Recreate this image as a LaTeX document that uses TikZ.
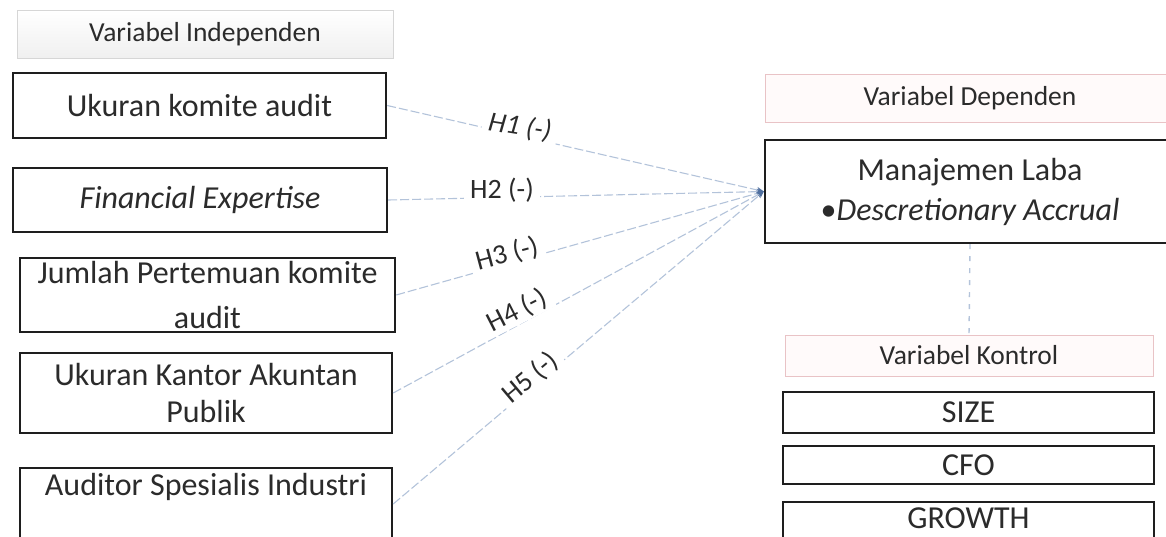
\documentclass[tikz,border=0pt]{standalone}
\usepackage{fontspec}
\setmainfont{Carlito}
\usetikzlibrary{arrows.meta}

\definecolor{ink}{HTML}{2B2B2B}
\definecolor{boxline}{HTML}{1E1E1E}
\definecolor{linkblue}{HTML}{B3C3DA}
\definecolor{tipblue}{HTML}{4F6F9F}
\definecolor{greyedge}{HTML}{D6D6D6}
\definecolor{pinkedge}{HTML}{E9C3C6}
\definecolor{pinkfill}{HTML}{FFFAFA}

\tikzset{
  varbox/.style={draw=boxline, line width=2.4pt, fill=white, text=ink,
    align=center, inner sep=0pt, font=\fontsize{32}{39}\selectfont},
  headgrey/.style={draw=greyedge, line width=1pt, top color=white, bottom color=black!6,
    text=ink, inner sep=0pt, font=\fontsize{27.5}{32}\selectfont},
  headpink/.style={draw=pinkedge, line width=1pt, fill=pinkfill,
    text=ink, inner sep=0pt, font=\fontsize{27.5}{32}\selectfont},
  hyplink/.style={draw=linkblue, line width=1.1pt, dash pattern=on 9pt off 3pt,
    -{Stealth[length=7pt,width=6pt,color=tipblue]}},
  ctrllink/.style={draw=linkblue, line width=1.4pt, dash pattern=on 5pt off 7pt},
  hyplabel/.style={fill=white, text=ink, inner xsep=6pt, inner ysep=1pt,
    font=\fontsize{28}{30}\selectfont},
}

\begin{document}
\begin{tikzpicture}[x=1pt,y=-1pt]
\useasboundingbox (0,0) rectangle (1166,536);

% independent variables
\node[headgrey, minimum width=376pt, minimum height=48pt] (hind) at (205,34) {Variabel Independen};
\node[varbox, minimum width=373pt, minimum height=65pt] (b1) at (199.5,105.5) {Ukuran komite audit};
\node[varbox, minimum width=374pt, minimum height=64pt] (b2) at (200,200) {\itshape Financial Expertise};
\node[varbox, minimum width=375pt, minimum height=74pt] (b3) at (207.5,295) {Jumlah Pertemuan komite\\[6pt]audit};
\node[varbox, minimum width=372pt, minimum height=80pt] (b4) at (206,393) {Ukuran Kantor Akuntan\\[-2pt]Publik};
\node[varbox, minimum width=372pt, text height=27pt, text depth=45pt] (b5) at (206,504) {Auditor Spesialis Industri};

% dependent variable
\node[headpink, minimum width=410pt, minimum height=48pt] (hdep) at (970,98) {Variabel Dependen};
\node[varbox, minimum width=410pt, minimum height=103pt] (dep) at (970,191.5)
  {Manajemen Laba\\[1pt]\textbullet\textit{Descretionary Accrual}};

% control variables
\node[headpink, minimum width=368pt, minimum height=41pt] (hctl) at (969,355.5) {Variabel Kontrol};
\node[varbox, minimum width=371pt, minimum height=41pt] (c1) at (968.5,412.5) {SIZE};
\node[varbox, minimum width=371pt, minimum height=38pt] (c2) at (968.5,465) {CFO};
\node[varbox, minimum width=371pt, text height=26pt, text depth=20pt] (c3) at (968.5,525) {GROWTH};

% hypothesis links
\draw[hyplink] (b1.east) -- (dep.west);
\draw[hyplink] (b2.east) -- (dep.west);
\draw[hyplink] (b3.east) -- (dep.west);
\draw[hyplink] (b4.east) -- (dep.west);
\draw[hyplink] (b5.east) -- (dep.west);
\draw[ctrllink] (dep.south) -- (hctl.north);

% hypothesis labels
\node[hyplabel, rotate=-9] (h1) at (520,127) {\itshape H1 (-)};
\node[hyplabel] (h2) at (502,190) {H2 (-)};
\node[hyplabel, rotate=15] (h3) at (507,254) {H3 (-)};
\node[hyplabel, rotate=27] (h4) at (517,311) {H4 (-)};
\node[hyplabel, rotate=40] (h5) at (530,378) {H5 (-)};
\end{tikzpicture}
\end{document}
